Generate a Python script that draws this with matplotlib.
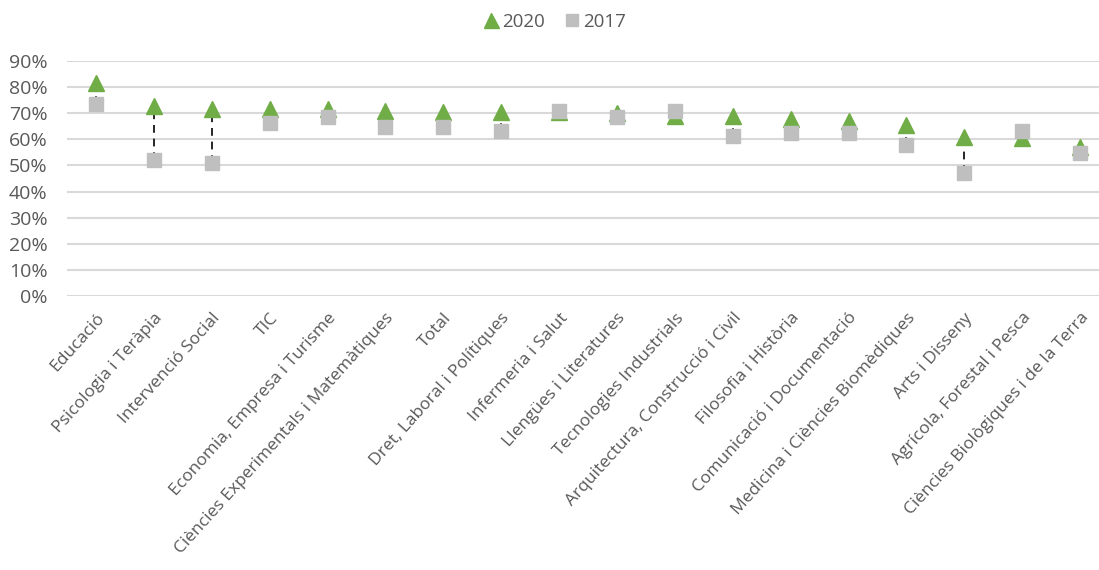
import matplotlib
matplotlib.use("Agg")
import matplotlib.pyplot as plt
from matplotlib.ticker import PercentFormatter

categories = [
    "Educació", "Psicologia i Teràpia", "Intervenció Social", "TIC",
    "Economia, Empresa i Turisme", "Ciències Experimentals i Matemàtiques",
    "Total", "Dret, Laboral i Polítiques", "Infermeria i Salut",
    "Llengües i Literatures", "Tecnologies Industrials",
    "Arquitectura, Construcció i Civil", "Filosofia i Història",
    "Comunicació i Documentació", "Medicina i Ciències Biomèdiques",
    "Arts i Disseny", "Agrícola, Forestal i Pesca",
    "Ciències Biològiques i de la Terra",
]
values_2020 = [0.816, 0.728, 0.716, 0.716, 0.715, 0.709, 0.706, 0.706, 0.705,
               0.700, 0.690, 0.688, 0.678, 0.672, 0.653, 0.608, 0.604, 0.569]
values_2017 = [0.736, 0.521, 0.511, 0.664, 0.685, 0.646, 0.646, 0.630, 0.709,
               0.684, 0.709, 0.614, 0.626, 0.626, 0.579, 0.472, 0.630, 0.546]
y_ticks = [0.0, 0.1, 0.2, 0.3, 0.4, 0.5, 0.6, 0.7, 0.8, 0.9]

GREEN = "#70AD47"
GREY = "#BFBFBF"
TEXT = "#595959"
FONT = ["Open Sans", "DejaVu Sans"]

plt.rcParams["font.family"] = FONT

fig = plt.figure(figsize=(10.99, 5.70), dpi=100)
ax = fig.add_axes([67 / 1099, (570 - 296) / 570, 1042 / 1099, 235 / 570])

x = list(range(len(categories)))
lo = [min(a, b) for a, b in zip(values_2020, values_2017)]
hi = [max(a, b) for a, b in zip(values_2020, values_2017)]
ax.vlines(x, lo, hi, colors="#262626", linestyles=(0, (4, 3)), linewidth=1.4, zorder=2)

ax.plot(x, values_2020, linestyle="none", marker="^", markersize=12,
        color=GREEN, markeredgecolor=GREEN, label="2020", zorder=3)
ax.plot(x, values_2017, linestyle="none", marker="s", markersize=9.5,
        color=GREY, markeredgecolor=GREY, label="2017", zorder=4)

ax.set_xlim(-0.5, len(categories) - 0.5)
ax.set_ylim(0, 0.9)
ax.set_yticks(y_ticks)
ax.yaxis.set_major_formatter(PercentFormatter(1.0, decimals=0))
ax.grid(axis="y", color="#D9D9D9", linewidth=1.5)
ax.set_axisbelow(True)
for s in ax.spines.values():
    s.set_visible(False)
ax.tick_params(axis="both", length=0, colors=TEXT)
ax.tick_params(axis="y", labelsize=14, pad=14)
ax.set_xticks(x)
ax.set_xticklabels(categories, rotation=48, ha="right", va="top",
                   rotation_mode="anchor", fontsize=12.5, color=TEXT)
ax.tick_params(axis="x", pad=10)

leg = fig.legend(loc="center", bbox_to_anchor=(553 / 1099, 1 - 22 / 570), ncol=2,
                 frameon=False, fontsize=13.5, handletextpad=0.05,
                 columnspacing=0.9, markerscale=0.9, handlelength=1.1)
for t in leg.get_texts():
    t.set_color(TEXT)

fig.savefig("out.png", dpi=100)
